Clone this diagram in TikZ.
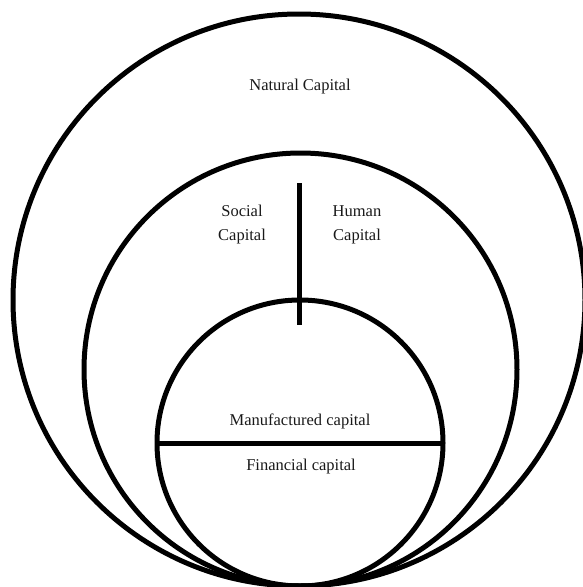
\documentclass[tikz,border=0pt]{standalone}
\usepackage{fontspec}
\setmainfont{Liberation Serif}

\begin{document}
\begin{tikzpicture}[x=1pt, y=-1pt, ring/.style={draw, circle, line width=5pt, inner sep=0pt, outer sep=0pt}, lbl/.style={font=\fontsize{16.5}{24}\selectfont, align=center, text=black!90}]
\useasboundingbox (0,0) rectangle (582,587);
\node[ring, minimum size=572pt] (natural) at (299,300) {};
\node[ring, minimum size=433pt] (social) at (300.5,369.5) {};
\node[ring, minimum size=286pt] (manuf) at (300,443) {};
\coordinate (divtop) at (299,183);
\coordinate (divbot) at (299,325);
\draw[line width=5pt] (divtop) -- (divbot);
\draw[line width=5pt] (manuf.west) -- (manuf.east);
\node[lbl] (naturallbl) at (300,87) {Natural Capital};
\node[lbl] (sociallbl) at (242,225) {Social\\Capital};
\node[lbl] (humanlbl) at (357,225) {Human\\Capital};
\node[lbl] (manuflbl) at (300,421) {Manufactured capital};
\node[lbl] (finlbl) at (301,467) {Financial capital};
\end{tikzpicture}
\end{document}
